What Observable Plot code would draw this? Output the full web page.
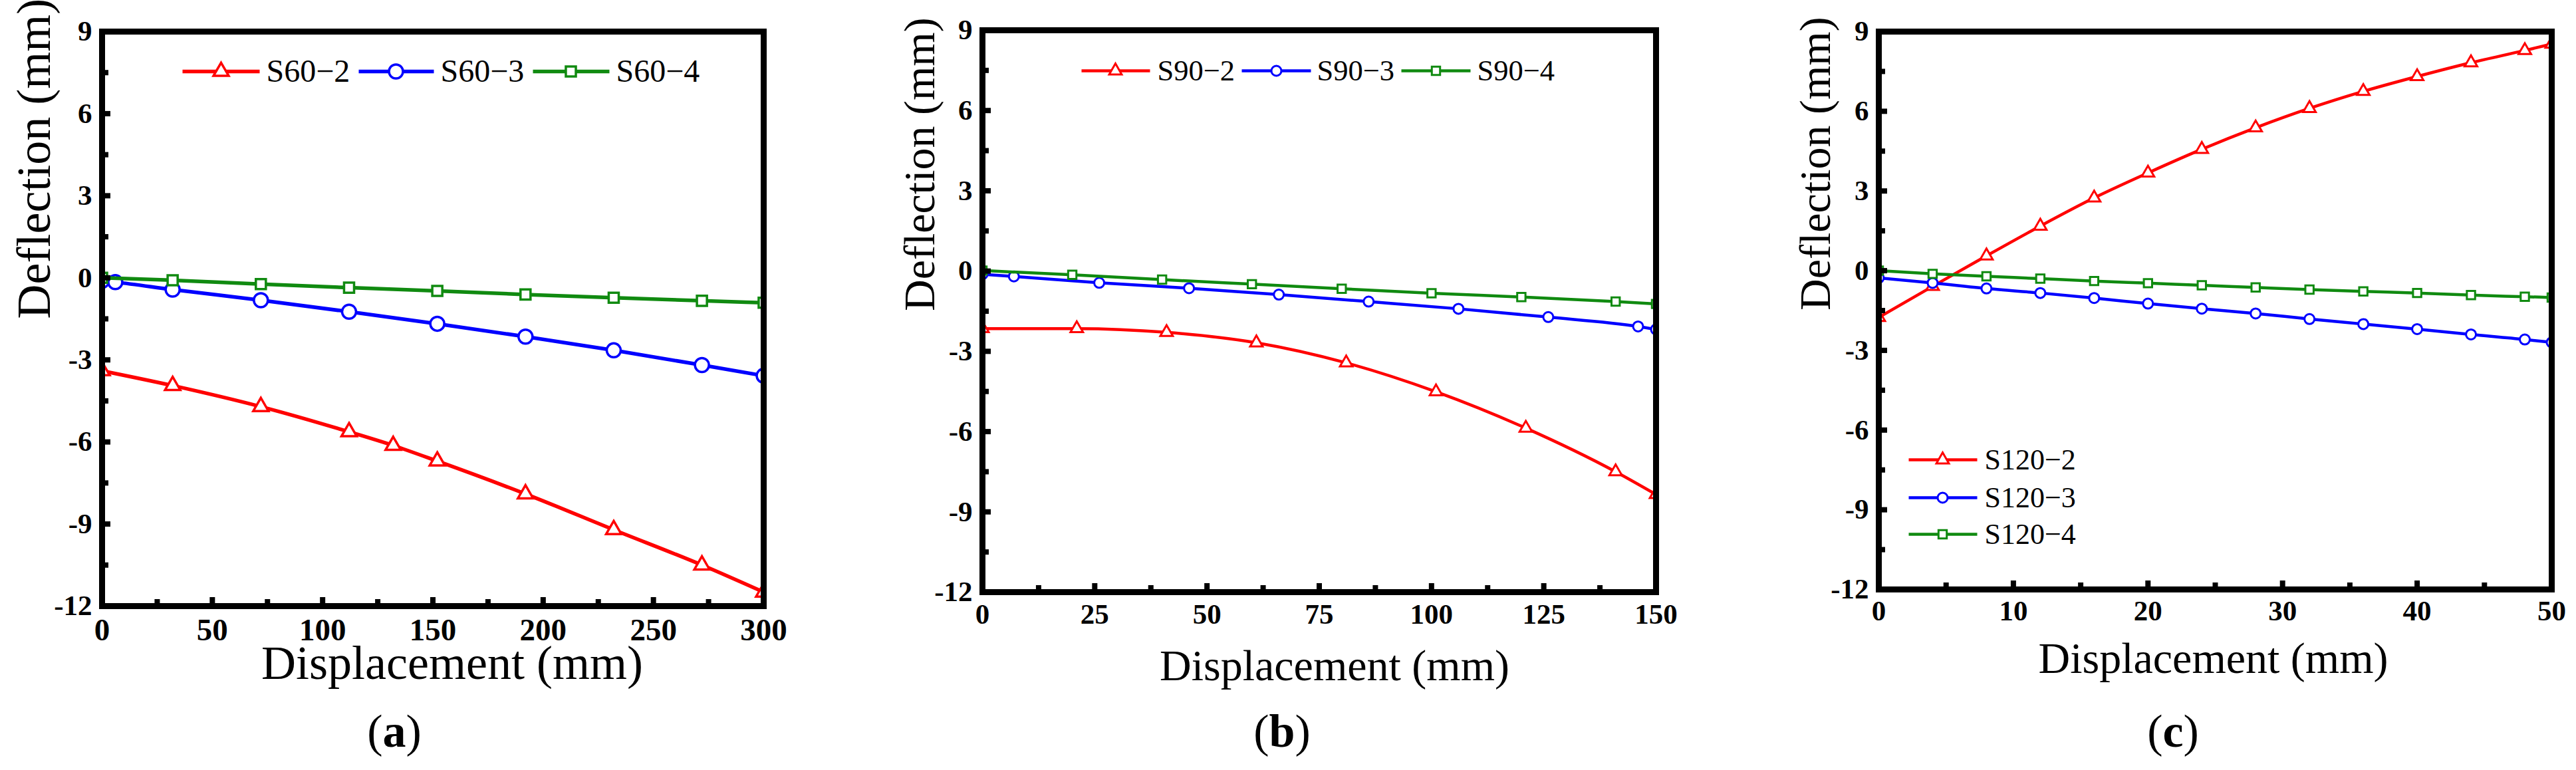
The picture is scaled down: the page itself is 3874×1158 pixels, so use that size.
<!DOCTYPE html>
<html>
<head>
<meta charset="utf-8">
<script src="https://cdn.jsdelivr.net/npm/d3@7"></script>
<script src="https://cdn.jsdelivr.net/npm/@observablehq/plot@0.6"></script>
<style>
  html, body { margin: 0; padding: 0; background: #fff; }
  #root { position: relative; width: 3874px; height: 1158px; overflow: hidden; background: #fff;
          font-family: "Liberation Serif", "Times New Roman", serif; }
  .cap { position: absolute; width: 200px; text-align: center; font-size: 70px; line-height: 70px; color: #000; }
  .cap b { font-weight: bold; }
</style>
</head>
<body>
<div id="root"></div>
<script>
// ---------------- DATA ----------------
// Panel (a)
const aNames = ["S60\u22122", "S60\u22123", "S60\u22124"];
const aX2 = [0, 32, 72, 112, 132, 152, 192, 232, 272, 300];
const aY2 = [-3.40, -3.94, -4.71, -5.63, -6.13, -6.70, -7.90, -9.21, -10.50, -11.49];
const aX3 = [0, 6, 32, 72, 112, 152, 192, 232, 272, 300];
const aY3 = [-0.11, -0.16, -0.43, -0.82, -1.24, -1.68, -2.15, -2.65, -3.19, -3.58];
const aX4 = [0, 32, 72, 112, 152, 192, 232, 272, 300];
const aY4 = [0.0, -0.09, -0.23, -0.36, -0.48, -0.61, -0.73, -0.84, -0.91];

// Panel (b)
const bNames = ["S90\u22122", "S90\u22123", "S90\u22124"];
const bX2 = [0, 21, 41, 61, 81, 101, 121, 141, 150];
const bY2 = [-2.15, -2.15, -2.29, -2.68, -3.43, -4.51, -5.87, -7.50, -8.35];
const bX3 = [0, 7, 26, 46, 66, 86, 106, 126, 146, 150];
const bY3 = [-0.12, -0.20, -0.44, -0.64, -0.88, -1.14, -1.41, -1.72, -2.07, -2.18];
const bX4 = [0, 20, 40, 60, 80, 100, 120, 141, 150];
const bY4 = [0.02, -0.14, -0.32, -0.49, -0.66, -0.83, -0.97, -1.14, -1.23];

// Panel (c)
const cNames = ["S120\u22122", "S120\u22123", "S120\u22124"];
const cX = [0, 4, 8, 12, 16, 20, 24, 28, 32, 36, 40, 44, 48, 50];
const cY2 = [-1.76, -0.59, 0.56, 1.68, 2.74, 3.68, 4.57, 5.38, 6.11, 6.75, 7.31, 7.83, 8.29, 8.53];
const cY3 = [-0.27, -0.46, -0.67, -0.84, -1.03, -1.24, -1.43, -1.61, -1.82, -2.01, -2.20, -2.40, -2.59, -2.70];
const cY4 = [0.0, -0.12, -0.21, -0.30, -0.39, -0.47, -0.55, -0.63, -0.71, -0.78, -0.84, -0.92, -0.98, -1.01];

// Ticks and labels
const aXTicks = [0, 50, 100, 150, 200, 250, 300];
const aXMinor = [25, 75, 125, 175, 225, 275];
const bXTicks = [0, 25, 50, 75, 100, 125, 150];
const bXMinor = [12.5, 37.5, 62.5, 87.5, 112.5, 137.5];
const cXTicks = [0, 10, 20, 30, 40, 50];
const cXMinor = [5, 15, 25, 35, 45];
const yTicks = [-12, -9, -6, -3, 0, 3, 6, 9];
const yMinor = [-10.5, -7.5, -4.5, -1.5, 1.5, 4.5, 7.5];
const xTitle = "Displacement (mm)";
const yTitle = "Deflection (mm)";
const captions = ["a", "b", "c"];

// ---------------- STYLE / LAYOUT ----------------
const colors = ["#ff0000", "#0000ff", "#108a10"];
const symbols = ["triangle", "circle", "square"];
const FONT = "'Liberation Serif', 'Times New Roman', Times, serif";

const panels = [
  {
    svgLeft: 0, svgWidth: 1230, L: 153, R: 1148, T: 47, B: 911,
    xDomain: [0, 300], xTicks: aXTicks, xMinor: aXMinor,
    names: aNames, xs: [aX2, aX3, aX4], ys: [aY2, aY3, aY4],
    lw: 5.5, mw: 3.5, r: [8.5, 10.5, 8.5],
    xTickSize: 47, yTickSize: 43, xPad: 18,
    titleSize: 72, xtDx: 29, xtDy: 109, ytDx: -102,
    legendSize: 48,
    legend: [
      {x1: 274, x2: 390, xm: 332, tx: 400, y: 107},
      {x1: 539, x2: 652, xm: 595, tx: 662, y: 107},
      {x1: 801, x2: 916, xm: 858, tx: 926, y: 107}
    ],
    capX: 593
  },
  {
    svgLeft: 1260, svgWidth: 1290, L: 1477, R: 2490, T: 45, B: 890,
    xDomain: [0, 150], xTicks: bXTicks, xMinor: bXMinor,
    names: bNames, xs: [bX2, bX3, bX4], ys: [bY2, bY3, bY4],
    lw: 4.5, mw: 3, r: [7, 7.5, 7],
    xTickSize: 43, yTickSize: 43, xPad: 17,
    titleSize: 66, xtDx: 23, xtDy: 132, ytDx: -94,
    legendSize: 44.5,
    legend: [
      {x1: 1626, x2: 1729, xm: 1677, tx: 1740, y: 106},
      {x1: 1867, x2: 1971, xm: 1919, tx: 1980, y: 106},
      {x1: 2107, x2: 2211, xm: 2159, tx: 2221, y: 106}
    ],
    capX: 1928
  },
  {
    svgLeft: 2600, svgWidth: 1274, L: 2825, R: 3837, T: 47, B: 886,
    xDomain: [0, 50], xTicks: cXTicks, xMinor: cXMinor,
    names: cNames, xs: [cX, cX, cX], ys: [cY2, cY3, cY4],
    lw: 4.5, mw: 3, r: [7, 7.5, 7],
    xTickSize: 43, yTickSize: 43, xPad: 16,
    titleSize: 66, xtDx: -3, xtDy: 125, ytDx: -95,
    legendSize: 44,
    legend: [
      {x1: 2870, x2: 2973, xm: 2921, tx: 2984, y: 691},
      {x1: 2870, x2: 2973, xm: 2921, tx: 2984, y: 748},
      {x1: 2870, x2: 2973, xm: 2921, tx: 2984, y: 803}
    ],
    capX: 3268
  }
];

const yDomain = [-12, 9];
const H = 1158;
const root = document.getElementById("root");

panels.forEach((p, pi) => {
  const fw = p.R - p.L, fh = p.B - p.T;
  const X = px => p.xDomain[0] + (px - p.L) / fw * (p.xDomain[1] - p.xDomain[0]);
  const Y = py => yDomain[1] - (py - p.T) / fh * (yDomain[1] - yDomain[0]);
  const dyPer = (yDomain[1] - yDomain[0]) / fh;
  const dxPer = (p.xDomain[1] - p.xDomain[0]) / fw;

  const marks = [];
  // series lines + markers
  p.names.forEach((name, si) => {
    const pts = p.xs[si].map((x, i) => ({x, y: p.ys[si][i]}));
    marks.push(Plot.line(pts, {x: "x", y: "y", stroke: colors[si], strokeWidth: p.lw, curve: "monotone-x", clip: true}));
    marks.push(Plot.dot(pts, {x: "x", y: "y", symbol: symbols[si], r: p.r[si], stroke: colors[si], strokeWidth: p.mw, fill: "white", clip: true}));
  });
  // inward ticks
  const tickMajor = 13, tickMinor = 10;
  marks.push(Plot.ruleX(p.xTicks, {x: d => d, y1: yDomain[0], y2: yDomain[0] + tickMajor * dyPer, stroke: "black", strokeWidth: 8}));
  marks.push(Plot.ruleX(p.xMinor, {x: d => d, y1: yDomain[0], y2: yDomain[0] + tickMinor * dyPer, stroke: "black", strokeWidth: 8}));
  marks.push(Plot.ruleY(yTicks, {y: d => d, x1: p.xDomain[0], x2: p.xDomain[0] + tickMajor * dxPer, stroke: "black", strokeWidth: 8}));
  marks.push(Plot.ruleY(yMinor, {y: d => d, x1: p.xDomain[0], x2: p.xDomain[0] + tickMinor * dxPer, stroke: "black", strokeWidth: 8}));
  marks.push(Plot.frame({stroke: "black", strokeWidth: 9}));
  // axes
  marks.push(Plot.axisX(p.xTicks, {tickSize: 0, tickPadding: p.xPad, tickFormat: d => String(d), fontSize: p.xTickSize, fontWeight: "bold", label: null}));
  marks.push(Plot.axisY(yTicks, {tickSize: 0, tickPadding: 15, tickFormat: d => String(d), fontSize: p.yTickSize, fontWeight: "bold", label: null}));
  // axis titles
  marks.push(Plot.text([xTitle], {text: d => d, frameAnchor: "bottom", lineAnchor: "bottom", dx: p.xtDx, dy: p.xtDy, fontSize: p.titleSize, fontWeight: "normal", fill: "black"}));
  marks.push(Plot.text([yTitle], {text: d => d, frameAnchor: "left", rotate: -90, lineAnchor: "middle", dx: p.ytDx, fontSize: p.titleSize, fontWeight: "normal", fill: "black"}));
  // legend
  p.legend.forEach((it, si) => {
    const item = {...it, label: p.names[si]};
    marks.push(Plot.link([item], {x1: d => X(d.x1), x2: d => X(d.x2), y1: d => Y(d.y), y2: d => Y(d.y), stroke: colors[si], strokeWidth: p.lw}));
    marks.push(Plot.dot([item], {x: d => X(d.xm), y: d => Y(d.y), symbol: symbols[si], r: p.r[si], stroke: colors[si], strokeWidth: p.mw, fill: "white"}));
    marks.push(Plot.text([item], {x: d => X(d.tx), y: d => Y(d.y), text: d => d.label, textAnchor: "start", lineAnchor: "middle", fontSize: p.legendSize, fontWeight: "normal", fill: "black"}));
  });

  const svg = Plot.plot({
    width: p.svgWidth,
    height: H,
    marginLeft: p.L - p.svgLeft,
    marginRight: p.svgLeft + p.svgWidth - p.R,
    marginTop: p.T,
    marginBottom: H - p.B,
    x: {domain: p.xDomain},
    y: {domain: yDomain},
    style: {fontFamily: FONT, fontWeight: "bold", color: "black", background: "transparent", overflow: "visible"},
    marks
  });
  svg.style.position = "absolute";
  svg.style.left = p.svgLeft + "px";
  svg.style.top = "0px";
  svg.style.maxWidth = "none";
  root.appendChild(svg);

  const cap = document.createElement("div");
  cap.className = "cap";
  cap.style.left = (p.capX - 100) + "px";
  cap.style.top = "1065px";
  cap.innerHTML = "(<b>" + captions[pi] + "</b>)";
  root.appendChild(cap);
});
</script>
</body>
</html>
